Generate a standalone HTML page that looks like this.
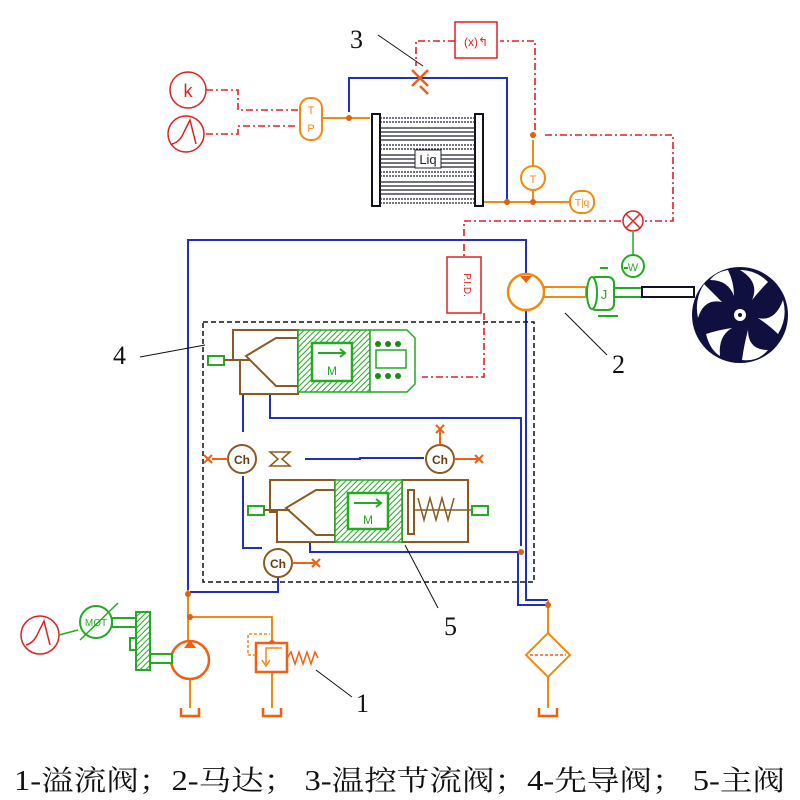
<!DOCTYPE html>
<html><head><meta charset="utf-8"><style>
html,body{margin:0;padding:0;background:#fff}
svg{display:block}
</style></head><body>
<svg width="800" height="800" viewBox="0 0 800 800" xmlns="http://www.w3.org/2000/svg" font-family="Liberation Sans, sans-serif">
<defs>
<pattern id="hatch" width="4" height="4" patternUnits="userSpaceOnUse" patternTransform="rotate(45)"><rect width="4" height="4" fill="#fff"/><line x1="0" y1="0" x2="0" y2="4" stroke="#2a2" stroke-width="2"/></pattern>
</defs>
<!-- blue hydraulic lines -->
<g stroke="#1f2fbf" stroke-width="2" fill="none">
<path d="M349,112 V78 H507 V200"/>
<path d="M188,590 V240 H526 V275"/>
<path d="M526,310 V600 H548"/>
<path d="M243,393 V432"/>
<path d="M270,393 V418 H521 V546"/>
<path d="M305,459 H360 V458 H424"/>
<path d="M243,476 V548 H262"/>
<path d="M310,542 V552 H518"/>
<path d="M518,552 V605 H548"/>
<path d="M278,577 V592 H190"/>
</g>
<!-- dashed box -->
<rect x="203" y="322" width="331" height="260" fill="none" stroke="#111" stroke-width="1.5" stroke-dasharray="5,3"/>
<!-- red dash-dot signals -->
<g stroke="#e02020" stroke-width="1.6" fill="none" stroke-dasharray="7,3,2,3">
<path d="M206,90 H238 V110 H298"/>
<path d="M206,134 H238 V126 H298"/>
<path d="M455,41 H416 V66"/>
<path d="M535,130 V41 H500"/>
<path d="M545,135 H673 V221 H645"/>
<path d="M621,221 H464 V258"/>
<path d="M484,313 V377 H422"/>
</g>
<!-- orange lines -->
<g stroke="#f08a10" stroke-width="2" fill="none">
<path d="M322,118 H370"/>
<path d="M483,202 H570"/>
<path d="M533,190 V202"/>
<path d="M533,166 V140"/>
<path d="M188,590 V640"/>
<path d="M190,680 V708"/>
<path d="M190,617 H272 V643"/>
<path d="M272,672 V708"/>
<path d="M548,600 V633"/>
<path d="M548,677 V708"/>
</g>
<g fill="#e06010">
<circle cx="349" cy="118" r="3"/><circle cx="507" cy="202" r="3"/><circle cx="533" cy="202" r="3"/>
<circle cx="188" cy="594" r="3"/><circle cx="190" cy="617" r="3"/><circle cx="272" cy="643" r="3"/>
<circle cx="548" cy="605" r="3"/><circle cx="521" cy="552" r="3"/><circle cx="533" cy="135" r="3"/>
</g>
<!-- red source circles -->
<g stroke="#e02020" stroke-width="1.5" fill="#fff">
<circle cx="188" cy="90" r="18"/><circle cx="186" cy="134" r="18"/><circle cx="40" cy="635" r="19"/>
<rect x="455" y="22" width="42" height="36"/>
<rect x="447" y="257" width="34" height="56"/>
<circle cx="633" cy="221" r="10"/>
</g>
<text x="188" y="97" font-size="18" fill="#e02020" text-anchor="middle">k</text>
<path d="M172,144 Q180,142 184,132 L190,120 L196,144" stroke="#e02020" stroke-width="1.5" fill="none"/>
<path d="M26,645 Q34,643 38,633 L44,621 L50,645" stroke="#e02020" stroke-width="1.5" fill="none"/>
<text x="476" y="46" font-size="12" fill="#e02020" text-anchor="middle">(x)↰</text>
<text x="464" y="285" font-size="10" fill="#e02020" text-anchor="middle" transform="rotate(90 464 285)">P.I.D.</text>
<path d="M626,214 L640,228 M640,214 L626,228" stroke="#e02020" stroke-width="1.5"/>
<!-- TP -->
<rect x="300" y="98" width="22" height="42" rx="10" fill="#fff" stroke="#f08a10" stroke-width="2"/>
<text x="311" y="114" font-size="11" fill="#f08a10" text-anchor="middle">T</text>
<text x="311" y="132" font-size="11" fill="#f08a10" text-anchor="middle">P</text>
<circle cx="533" cy="178" r="12" fill="#fff" stroke="#f08a10" stroke-width="2"/>
<text x="533" y="183" font-size="11" fill="#f08a10" text-anchor="middle">T</text>
<rect x="570" y="191" width="24" height="22" rx="10" fill="#fff" stroke="#f08a10" stroke-width="2"/>
<text x="582" y="206" font-size="10" fill="#f08a10" text-anchor="middle">T|q</text>
<!-- valve 3 -->
<path d="M412,70 L428,86 M428,70 L412,86 M420,86 L428,94" stroke="#f06010" stroke-width="2.5"/>
<!-- cooler -->
<g>
<rect x="372" y="114" width="8" height="92" fill="#fff" stroke="#112" stroke-width="2"/>
<rect x="475" y="114" width="8" height="92" fill="#fff" stroke="#112" stroke-width="2"/>
<g stroke="#223" stroke-width="1.2">
<line x1="380" y1="118" x2="475" y2="118" stroke-dasharray="2,1"/><line x1="380" y1="122" x2="475" y2="122" stroke-dasharray="2,1"/>
<line x1="380" y1="128" x2="475" y2="128"/><line x1="380" y1="132" x2="475" y2="132"/><line x1="380" y1="136" x2="475" y2="136"/><line x1="380" y1="140" x2="475" y2="140"/>
<line x1="380" y1="145" x2="475" y2="145" stroke-dasharray="2,1"/><line x1="380" y1="149" x2="475" y2="149" stroke-dasharray="2,1"/>
<line x1="380" y1="155" x2="475" y2="155"/><line x1="380" y1="159" x2="475" y2="159"/><line x1="380" y1="163" x2="475" y2="163"/><line x1="380" y1="167" x2="475" y2="167"/>
<line x1="380" y1="172" x2="475" y2="172" stroke-dasharray="2,1"/><line x1="380" y1="176" x2="475" y2="176" stroke-dasharray="2,1"/>
<line x1="380" y1="182" x2="475" y2="182"/><line x1="380" y1="186" x2="475" y2="186"/><line x1="380" y1="190" x2="475" y2="190"/><line x1="380" y1="194" x2="475" y2="194"/>
<line x1="380" y1="199" x2="475" y2="199" stroke-dasharray="2,1"/><line x1="380" y1="203" x2="475" y2="203" stroke-dasharray="2,1"/>
</g>
<rect x="415" y="150" width="26" height="18" fill="#fff" stroke="#223"/>
<text x="428" y="164" font-size="13" fill="#223" text-anchor="middle">Liq</text>
</g>
<!-- motor 2 -->
<circle cx="526" cy="292" r="18" fill="#fff" stroke="#f08a10" stroke-width="2.5"/>
<path d="M520,276 L532,276 L526,283Z" fill="#f06010"/>
<rect x="544" y="287" width="42" height="10" fill="#fff" stroke="#f08a10" stroke-width="2"/>
<!-- J -->
<g stroke="#22aa22" stroke-width="2" fill="#fff">
<rect x="590" y="277" width="24" height="33" rx="6"/>
<ellipse cx="592" cy="293" rx="5" ry="16"/>
<rect x="614" y="288" width="28" height="9"/>
<circle cx="633" cy="266" r="11"/>
<line x1="598" y1="316" x2="618" y2="316"/>
</g>
<text x="604" y="299" font-size="13" fill="#22aa22" text-anchor="middle">J</text>
<text x="633" y="271" font-size="11" fill="#22aa22" text-anchor="middle">W</text>
<path d="M633,255 V232" stroke="#22aa22" stroke-width="1.5"/>
<path d="M600,268 H608 M624,268 H628" stroke="#22aa22" stroke-width="2"/>
<rect x="642" y="287" width="52" height="10" fill="#fff" stroke="#112" stroke-width="2"/>
<!-- fan -->
<circle cx="740" cy="315" r="48" fill="#101040"/>
<g fill="#fff">
<path d="M740,270 Q760,282 752,300 Q760,290 768,282 Q756,270 740,270Z"/>
<path d="M783,300 Q775,322 758,318 Q770,326 778,334 Q788,318 783,300Z"/>
<path d="M768,350 Q748,350 748,330 Q744,345 742,360 Q758,362 768,350Z"/>
<path d="M720,356 Q718,336 732,328 Q718,330 706,334 Q710,350 720,356Z"/>
<path d="M698,318 Q704,298 722,302 Q712,292 704,284 Q694,300 698,318Z"/>
<path d="M710,280 Q728,280 734,296 Q734,282 728,270 Q716,272 710,280Z"/>
</g>
<circle cx="740" cy="315" r="6" fill="#fff"/><circle cx="740" cy="315" r="2" fill="#101040"/>
<!-- pilot valve 4 -->
<g fill="#fff" stroke="#8a5a20" stroke-width="2">
<path d="M233,330 H298 V394 H240 V360 H233Z"/>
<path d="M246,356 L276,338 H298 V386 H276Z"/>
</g>
<rect x="208" y="356" width="16" height="9" fill="#fff" stroke="#22aa22" stroke-width="2"/>
<line x1="224" y1="360" x2="250" y2="360" stroke="#8a5a20" stroke-width="2"/>
<rect x="298" y="330" width="72" height="62" fill="url(#hatch)" stroke="#22aa22" stroke-width="1.5"/>
<rect x="312" y="343" width="40" height="38" fill="#fff" stroke="#22aa22" stroke-width="2.5"/>
<text x="332" y="375" font-size="12" fill="#22aa22" text-anchor="middle">M</text>
<path d="M318,353 H344 M340,349 L345,353 L340,357" stroke="#22aa22" stroke-width="2" fill="none"/>
<path d="M370,330 H407 L415,338 V384 L407,392 H370Z" fill="#fff" stroke="#22aa22" stroke-width="1.5"/>
<rect x="376" y="350" width="30" height="18" fill="#fff" stroke="#22aa22" stroke-width="1.5"/>
<g fill="#1a8a1a"><circle cx="378" cy="344" r="3"/><circle cx="388" cy="344" r="3"/><circle cx="398" cy="344" r="3"/><circle cx="378" cy="376" r="3"/><circle cx="388" cy="376" r="3"/><circle cx="398" cy="376" r="3"/></g>
<!-- main valve 5 -->
<g fill="#fff" stroke="#8a5a20" stroke-width="2">
<path d="M270,480 H335 V542 H277 V512 H270Z"/>
<path d="M286,508 L316,490 H335 V535 H316Z"/>
<path d="M402,480 H468 V542 H402Z"/>
<rect x="408" y="490" width="6" height="44"/>
</g>
<path d="M418,498 L424,520 L430,498 L436,520 L442,498 L448,520 L454,498" stroke="#8a5a20" stroke-width="1.5" fill="none"/>
<line x1="414" y1="510" x2="472" y2="510" stroke="#8a5a20" stroke-width="1.5"/>
<rect x="248" y="506" width="16" height="9" fill="#fff" stroke="#22aa22" stroke-width="2"/>
<rect x="472" y="506" width="16" height="9" fill="#fff" stroke="#22aa22" stroke-width="2"/>
<line x1="264" y1="510" x2="290" y2="510" stroke="#8a5a20" stroke-width="2"/>
<rect x="335" y="480" width="67" height="62" fill="url(#hatch)" stroke="#22aa22" stroke-width="1.5"/>
<rect x="348" y="493" width="40" height="36" fill="#fff" stroke="#22aa22" stroke-width="2.5"/>
<text x="368" y="524" font-size="12" fill="#22aa22" text-anchor="middle">M</text>
<path d="M354,503 H380 M376,499 L381,503 L376,507" stroke="#22aa22" stroke-width="2" fill="none"/>
<!-- Ch nodes -->
<g fill="#fff" stroke="#8a5a20" stroke-width="2">
<circle cx="242" cy="459" r="14"/><circle cx="440" cy="459" r="14"/><circle cx="278" cy="563" r="14"/>
</g>
<path d="M270,452 H290 L282,459 L290,466 H270 L278,459Z" fill="#fff" stroke="#8a5a20" stroke-width="1.5"/>
<g font-size="12" font-weight="bold" fill="#6a3a10" text-anchor="middle">
<text x="242" y="464">Ch</text><text x="440" y="464">Ch</text><text x="278" y="568">Ch</text>
</g>
<g stroke="#f06010" stroke-width="2">
<path d="M204,455 L212,463 M212,455 L204,463 M212,459 H228"/>
<path d="M475,455 L483,463 M483,455 L475,463 M454,459 H479"/>
<path d="M436,425 L444,433 M444,425 L436,433 M440,429 V445"/>
<path d="M312,559 L320,567 M320,559 L312,567 M292,563 H316"/>
</g>
<!-- bottom pump area -->
<circle cx="190" cy="660" r="19" fill="#fff" stroke="#f06010" stroke-width="2.5"/>
<path d="M184,648 H196 L190,640Z" fill="#f06010"/>
<rect x="256" y="643" width="31" height="29" fill="#fff" stroke="#f06010" stroke-width="2.5"/>
<path d="M282,648 H266 V664 M262,660 L266,666 L270,660" stroke="#f08a10" stroke-width="1.5" fill="none"/>
<path d="M256,655 H248 V634 H270" stroke="#f08a10" stroke-width="1.5" fill="none" stroke-dasharray="3,2"/>
<path d="M287,658 L291,652 L295,664 L299,652 L303,664 L307,652 L311,664 L315,652 L318,658" stroke="#f06010" stroke-width="1.5" fill="none"/>
<g stroke="#f06010" stroke-width="2.5" fill="none">
<path d="M181,708 V716 H199 V708"/><path d="M263,708 V716 H281 V708"/><path d="M539,708 V716 H557 V708"/>
</g>
<path d="M548,633 L570,655 L548,677 L526,655Z" fill="#fff" stroke="#f08a10" stroke-width="2"/>
<line x1="530" y1="655" x2="566" y2="655" stroke="#f06010" stroke-width="1.5" stroke-dasharray="3,2"/>
<!-- MOT -->
<circle cx="96" cy="622" r="16" fill="#fff" stroke="#22aa22" stroke-width="2"/>
<text x="96" y="626" font-size="10" fill="#22aa22" text-anchor="middle">MOT</text>
<line x1="80" y1="640" x2="118" y2="603" stroke="#22aa22" stroke-width="1.5"/>
<line x1="59" y1="635" x2="78" y2="630" stroke="#22aa22" stroke-width="1.5"/>
<rect x="112" y="618" width="24" height="9" fill="#fff" stroke="#22aa22" stroke-width="2"/>
<rect x="136" y="612" width="14" height="58" fill="url(#hatch)" stroke="#22aa22" stroke-width="2"/>
<rect x="130" y="638" width="6" height="12" fill="#fff" stroke="#22aa22" stroke-width="2"/>
<rect x="150" y="654" width="22" height="9" fill="#fff" stroke="#22aa22" stroke-width="2"/>
<!-- leaders & numbers -->
<g stroke="#111" stroke-width="1">
<line x1="378" y1="35" x2="423" y2="66"/>
<line x1="140" y1="357" x2="205" y2="345"/>
<line x1="565" y1="313" x2="607" y2="355"/>
<line x1="405" y1="545" x2="438" y2="608"/>
<line x1="316" y1="670" x2="352" y2="697"/>
</g>
<g font-family="Liberation Serif, serif" font-size="26" fill="#111">
<text x="350" y="48">3</text><text x="113" y="364">4</text><text x="612" y="373">2</text>
<text x="444" y="635">5</text><text x="356" y="712">1</text>
</g>
<text x="14" y="790" font-family="Liberation Serif, 'Noto Serif CJK SC', serif" font-size="28" fill="#111" textLength="771" lengthAdjust="spacingAndGlyphs">1-溢流阀；2-马达； 3-温控节流阀；4-先导阀； 5-主阀</text>
</svg>
</body></html>
